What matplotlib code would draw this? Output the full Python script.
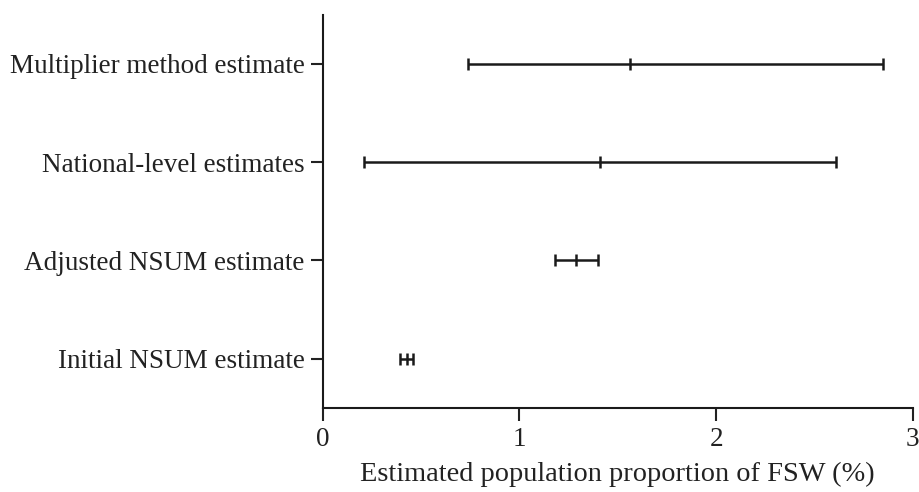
import numpy as np
import matplotlib.pyplot as plt

labels = ["Initial NSUM estimate", "Adjusted NSUM estimate",
          "National-level estimates", "Multiplier method estimate"]
point = [0.43, 1.29, 1.41, 1.56]
lower = [0.39, 1.18, 0.21, 0.74]
upper = [0.46, 1.40, 2.61, 2.85]

plt.rcParams['font.family'] = ['Liberation Serif', 'DejaVu Serif']

fig = plt.figure(figsize=(9.2, 4.92), dpi=100)
ax = fig.add_axes([0.351, 0.171, 0.641, 0.799])

y = np.arange(len(labels))
point = np.array(point)
xerr = [point - np.array(lower), np.array(upper) - point]
ax.errorbar(point, y, xerr=xerr, fmt='|', ms=8, mew=1.8, color='#1a1a1a',
            ecolor='#1a1a1a', elinewidth=1.8, capsize=4, capthick=1.8)

ax.set_xlim(0, 3)
ax.set_ylim(-0.5, 3.5)
ax.set_xticks([0, 1, 2, 3])
ax.set_yticks(y)
ax.set_yticklabels(labels)
ax.set_xlabel("Estimated population proportion of FSW (%)", fontsize=20.4,
              color='#222222', labelpad=7)
ax.tick_params(axis='both', labelsize=19.5, colors='#222222', width=1.5, length=9)
ax.tick_params(axis='x', pad=5)
ax.tick_params(axis='y', pad=4)
for s in ['top', 'right']:
    ax.spines[s].set_visible(False)
for s in ['left', 'bottom']:
    ax.spines[s].set_linewidth(1.5)
    ax.spines[s].set_color('#1a1a1a')

plt.savefig("out.png", dpi=100)
